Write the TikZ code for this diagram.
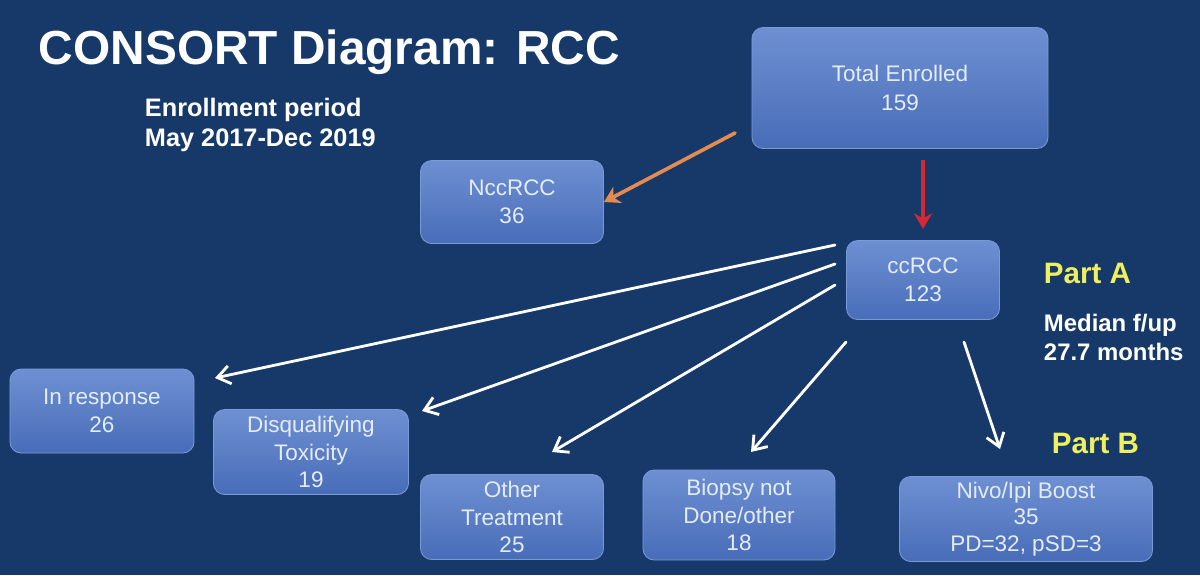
\documentclass[tikz,border=0pt]{standalone}
\usepackage{fontspec}
\setmainfont{Liberation Sans}
\usetikzlibrary{arrows.meta}
\definecolor{slide}{RGB}{22,57,105}
\definecolor{boxtop}{RGB}{110,144,210}
\definecolor{boxbot}{RGB}{72,108,184}
\definecolor{boxline}{RGB}{122,154,214}
\definecolor{boxtext}{RGB}{228,236,250}
\definecolor{partyellow}{RGB}{238,240,96}
\definecolor{exclorange}{RGB}{228,140,80}
\definecolor{keepred}{RGB}{212,40,52}

\begin{document}
\begin{tikzpicture}[x=0.025cm, y=-0.025cm,
    box/.style={draw=boxline, line width=0.6pt, rounded corners=8pt,
        top color=boxtop, bottom color=boxbot, text=boxtext, align=center,
        inner sep=0pt, font=\fontsize{16}{20}\selectfont},
    note/.style={anchor=base west, text=white, align=left,
        font=\fontsize{17}{20.5}\selectfont\bfseries},
    part/.style={anchor=base west, text=partyellow,
        font=\fontsize{21}{25}\selectfont\bfseries},
    flow/.style={draw=white, line width=2pt, line cap=round,
        -{Straight Barb[length=9pt, width=13pt, line width=2pt]}}]
    \fill[slide] (0,0) rectangle (1200,575);

    \node[anchor=base west, text=white, font=\fontsize{34}{40}\selectfont\bfseries]
        (title) at (34,64) {CONSORT Diagram: RCC};
    % base anchor sits on the last line
    \node[note, font=\fontsize{18}{21}\selectfont\bfseries] (period) at (140,146)
        {Enrollment period\\May 2017-Dec 2019};

    \node[box, minimum width=7.4cm, minimum height=3.025cm] (total) at (900,88) {Total Enrolled\\159};
    \node[box, minimum width=4.575cm, minimum height=2.075cm] (ncc) at (512,202) {NccRCC\\36};
    \node[box, minimum width=3.825cm, minimum height=1.975cm] (cc) at (923,280) {ccRCC\\123};
    \node[box, minimum width=4.6cm, minimum height=2.1cm] (resp) at (102,411) {In response\\26};
    \node[box, minimum width=4.875cm, minimum height=2.125cm, font=\fontsize{16}{19.5}\selectfont]
        (tox) at (311,452) {Disqualifying\\Toxicity\\19};
    \node[box, minimum width=4.575cm, minimum height=2.125cm, font=\fontsize{16}{19.5}\selectfont]
        (other) at (512,517) {Other\\Treatment\\25};
    \node[box, minimum width=4.8cm, minimum height=2.25cm, font=\fontsize{16}{19.5}\selectfont]
        (biopsy) at (739,515) {Biopsy not\\Done/other\\18};
    \node[box, minimum width=6.325cm, minimum height=2.125cm, font=\fontsize{16}{19}\selectfont]
        (boost) at (1026,519) {Nivo/Ipi Boost\\35\\PD=32, pSD=3};

    \node[part] (partA) at (1039,283) {Part A};
    \node[note] (fup) at (1039,360) {Median f/up\\27.7 months};
    \node[part] (partB) at (1047,453) {Part B};

    \coordinate (o1) at (735,133);
    \draw[draw=exclorange, line width=2.6pt, line cap=round,
        -{Stealth[length=11pt, width=13pt]}] (o1) -- (ncc.east);
    \draw[draw=keepred, line width=2.4pt, shorten <=8pt, shorten >=8pt,
        -{Stealth[length=11pt, width=13pt]}] (total.south -| cc) -- (cc);

    \coordinate (s1) at (835,245); \coordinate (e1) at (215,378);
    \coordinate (s2) at (835,264); \coordinate (e2) at (422,411);
    \coordinate (s3) at (835,285); \coordinate (e3) at (552,452);
    \coordinate (s4) at (846,342); \coordinate (e4) at (751,452);
    \coordinate (s5) at (964,342); \coordinate (e5) at (1000,449);
    \draw[flow] (s1) -- (e1);
    \draw[flow] (s2) -- (e2);
    \draw[flow] (s3) -- (e3);
    \draw[flow] (s4) -- (e4);
    \draw[flow] (s5) -- (e5);
\end{tikzpicture}
\end{document}
